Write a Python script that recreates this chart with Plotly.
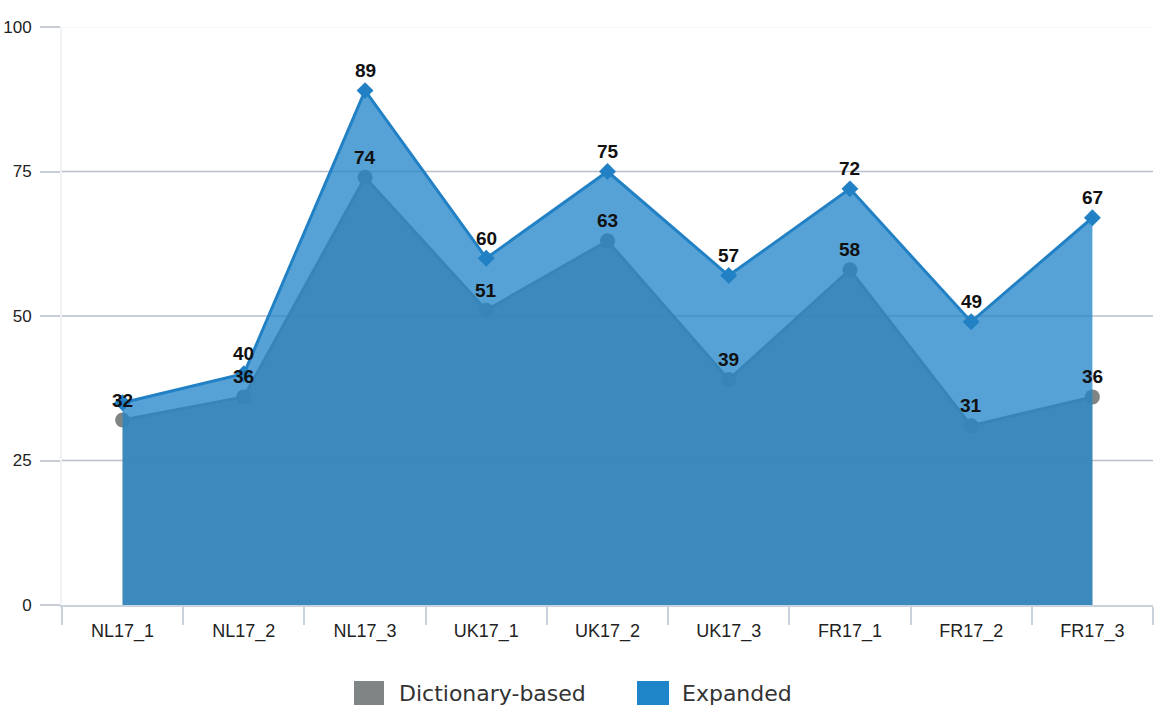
import plotly.graph_objects as go

categories = ["NL17_1", "NL17_2", "NL17_3", "UK17_1", "UK17_2", "UK17_3", "FR17_1", "FR17_2", "FR17_3"]
dictionary_based = [32, 36, 74, 51, 63, 39, 58, 31, 36]
expanded = [35, 40, 89, 60, 75, 57, 72, 49, 67]
expanded_label_shown = [False, True, True, True, True, True, True, True, True]
y_ticks = [0, 25, 50, 75, 100]
series_names = ["Dictionary-based", "Expanded"]

GRAY = "#7f8584"
BLUE = "#1f85c9"

W, H = 1155, 712
ML, MR, MT, MB = 62, 2, 27, 107
PW, PH = W - ML - MR, H - MT - MB


def px_x(px):
    return (px - ML) / PW


def px_y(py):
    return (H - MB - py) / PH


fig = go.Figure()

fig.add_trace(go.Scatter(
    x=categories, y=dictionary_based, mode="lines+markers", fill="tozeroy",
    fillcolor="rgba(128,133,132,0.85)",
    line=dict(color=GRAY, width=3),
    marker=dict(symbol="circle", size=15, color=GRAY),
    showlegend=False, hoverinfo="skip", name=series_names[0],
))
fig.add_trace(go.Scatter(
    x=categories, y=expanded, mode="lines+markers", fill="tozeroy",
    fillcolor="rgba(33,133,201,0.76)",
    line=dict(color="#2281c4", width=3),
    marker=dict(symbol="diamond", size=13, color="#2281c4"),
    showlegend=False, hoverinfo="skip", name=series_names[1],
))

lab_font = dict(family="Liberation Sans, Arial, sans-serif", size=19, color="#111111")
for c, v in zip(categories, dictionary_based):
    fig.add_annotation(x=c, y=v, text=f"<b>{v}</b>", showarrow=False, yshift=20, font=lab_font)
for c, v, s in zip(categories, expanded, expanded_label_shown):
    if s:
        fig.add_annotation(x=c, y=v, text=f"<b>{v}</b>", showarrow=False, yshift=20, font=lab_font)

for t in y_ticks[1:-1]:
    fig.add_shape(type="line", xref="paper", x0=0, x1=1, yref="y", y0=t, y1=t,
                  line=dict(color="#b9bec7", width=1.5), layer="below")
fig.add_shape(type="line", xref="paper", x0=0, x1=1, yref="y", y0=100, y1=100,
              line=dict(color="#f2f4f6", width=1.5), layer="below")

# manual legend (squares + labels)
legend_items = [(series_names[0], GRAY, 354, 384, 397), (series_names[1], BLUE, 637, 669, 680)]
for name, col, sx0, sx1, tx in legend_items:
    fig.add_shape(type="rect", xref="paper", yref="paper",
                  x0=px_x(sx0), x1=px_x(sx1), y0=px_y(705), y1=px_y(681),
                  fillcolor=col, line=dict(width=0))
    fig.add_annotation(xref="paper", yref="paper", x=px_x(tx), y=px_y(693),
                       xanchor="left", yanchor="middle", showarrow=False, text=name,
                       font=dict(family="DejaVu Sans, sans-serif", size=22, color="#333333"))

fig.update_layout(
    width=W, height=H,
    margin=dict(l=ML, r=MR, t=MT, b=MB),
    paper_bgcolor="white", plot_bgcolor="white",
    showlegend=False,
    font=dict(family="Liberation Sans, Arial, sans-serif", size=16, color="#222222"),
    xaxis=dict(
        type="category", range=[-0.5, 8.5], showgrid=False, zeroline=False, automargin=False,
        showline=True, linecolor="#c9d3dd", linewidth=2,
        ticks="outside", tickson="boundaries", ticklen=18, tickcolor="#c9d3dd", tickwidth=2,
        ticklabelstandoff=8,
        tickfont=dict(size=18, color="#222222"),
    ),
    yaxis=dict(
        range=[0, 100], tickvals=y_ticks, showgrid=False, zeroline=False, automargin=False,
        showline=True, linecolor="#eef2f5", linewidth=2,
        ticks="outside", ticklen=20, tickcolor="#c9ced6", tickwidth=2,
        ticklabelstandoff=5,
        tickfont=dict(size=17, color="#222222"),
    ),
)

fig.write_html("out.html")
